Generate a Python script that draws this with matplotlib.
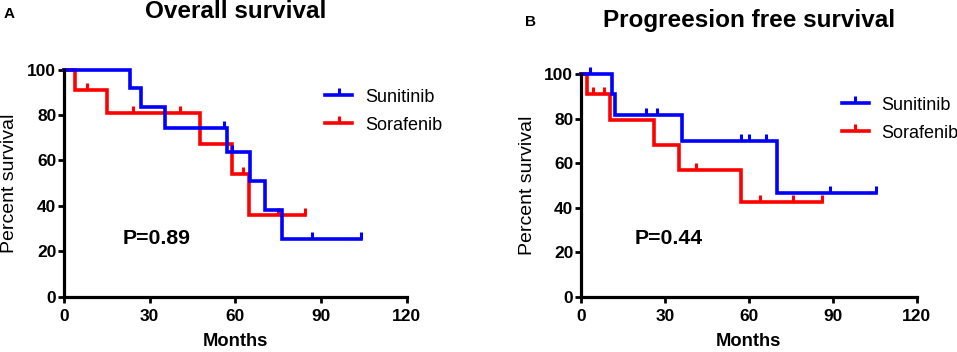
import numpy as np
import matplotlib
matplotlib.use("Agg")
import matplotlib.pyplot as plt
from matplotlib.lines import Line2D

plt.rcParams["font.family"] = ["Liberation Sans", "DejaVu Sans"]

# Panel A - overall survival (months, percent)
os_sun_t = [0, 23, 27, 35.5, 57, 65, 70.5, 76.5, 104]
os_sun_s = [100, 91.7, 83.3, 74.1, 63.5, 50.8, 38.1, 25.4, 25.4]
os_sun_cens = [56, 59, 87, 104]
os_sor_t = [0, 4, 15, 47.5, 59, 64.7, 84.5]
os_sor_s = [100, 90.9, 80.8, 67.3, 53.9, 35.9, 35.9]
os_sor_cens = [8, 24, 40.5, 62.7, 75, 84.5]

# Panel B - progression free survival
pfs_sun_t = [0, 11.2, 12.1, 36.2, 70, 105.5]
pfs_sun_s = [100, 90.9, 81.8, 70.1, 46.7, 46.7]
pfs_sun_cens = [3.2, 23.2, 27, 57.1, 60, 66, 89, 105.5]
pfs_sor_t = [0, 2, 10.4, 26.2, 35, 57.1, 86]
pfs_sor_s = [100, 90.9, 79.5, 68.2, 56.8, 42.6, 42.6]
pfs_sor_cens = [4.2, 8.2, 41.1, 63.9, 75.8, 86]

groups = ["Sunitinib", "Sorafenib"]
colors = {"Sunitinib": "#0000ff", "Sorafenib": "#ff0000"}
xticks = [0, 30, 60, 90, 120]
yticks = [0, 20, 40, 60, 80, 100]


def km(ax, t, s, cens, color):
    ax.step(t, s, where="post", color=color, lw=2.6, clip_on=False,
            solid_joinstyle="miter")
    t = np.asarray(t)
    s = np.asarray(s)
    idx = np.searchsorted(t, cens, side="right") - 1
    ax.plot(cens, s[idx], ls="none", marker=2, ms=5, mew=2.2, color=color,
            clip_on=False)


def style(ax):
    ax.set_xlim(0, 120)
    ax.set_ylim(0, 100)
    ax.set_xticks(xticks, labels=[str(v) for v in xticks],
                  fontweight="bold", fontsize=12.5)
    ax.set_yticks(yticks, labels=[str(v) for v in yticks],
                  fontweight="bold", fontsize=12.5)
    for side in ["top", "right"]:
        ax.spines[side].set_visible(False)
    for side in ["left", "bottom"]:
        ax.spines[side].set_linewidth(2.3)
    ax.tick_params(length=4.5, width=2, direction="out")
    ax.tick_params(axis="y", pad=1)
    ax.tick_params(axis="x", pad=4)
    ax.set_ylabel("Percent survival", fontsize=14)
    ax.set_xlabel("Months", fontsize=13.2, fontweight="bold")


fig = plt.figure(figsize=(9.57, 3.52), dpi=100)
W, H = 957, 352
axA = fig.add_axes([64 / W, 1 - 296.7 / H, 342.7 / W, 227.2 / H])
axB = fig.add_axes([581 / W, 1 - 296.7 / H, 335.7 / W, 222.7 / H])

km(axA, os_sor_t, os_sor_s, os_sor_cens, colors["Sorafenib"])
km(axA, os_sun_t, os_sun_s, os_sun_cens, colors["Sunitinib"])
km(axB, pfs_sor_t, pfs_sor_s, pfs_sor_cens, colors["Sorafenib"])
km(axB, pfs_sun_t, pfs_sun_s, pfs_sun_cens, colors["Sunitinib"])

for ax in (axA, axB):
    style(ax)
axA.yaxis.set_label_coords(-0.134, 0.5)
axB.yaxis.set_label_coords(-0.134, 0.5)
axA.xaxis.set_label_coords(0.5, -0.16)
axB.xaxis.set_label_coords(0.5, -0.163)

axA.text(32.3, 25.7, "P=0.89", ha="center", va="center", fontsize=15.3,
         fontweight="bold")
axB.text(31.2, 26.2, "P=0.44", ha="center", va="center", fontsize=15.3,
         fontweight="bold")

handles = [Line2D([], [], color=colors[g], lw=2.6, marker=2, ms=5, mew=2.2)
           for g in groups]
for ax, anchor in ((axA, (0.762, 0.915)), (axB, (0.777, 0.898))):
    ax.legend(handles, groups, loc="upper left", bbox_to_anchor=anchor,
              frameon=False, fontsize=13, handlelength=1.5, handletextpad=0.7,
              labelspacing=0.6, borderpad=0, borderaxespad=0, numpoints=1)

fig.text(236 / W, 1 - 12 / H, "Overall survival", ha="center", va="center",
         fontsize=17.5, fontweight="bold")
fig.text(749 / W, 1 - 20 / H, "Progreesion free survival", ha="center",
         va="center", fontsize=17.5, fontweight="bold")
fig.text(9.5 / W, 1 - 14.5 / H, "A", ha="center", va="center", fontsize=11,
         fontweight="bold")
fig.text(530.5 / W, 1 - 22 / H, "B", ha="center", va="center", fontsize=11,
         fontweight="bold")

fig.savefig("out.png", dpi=100)
